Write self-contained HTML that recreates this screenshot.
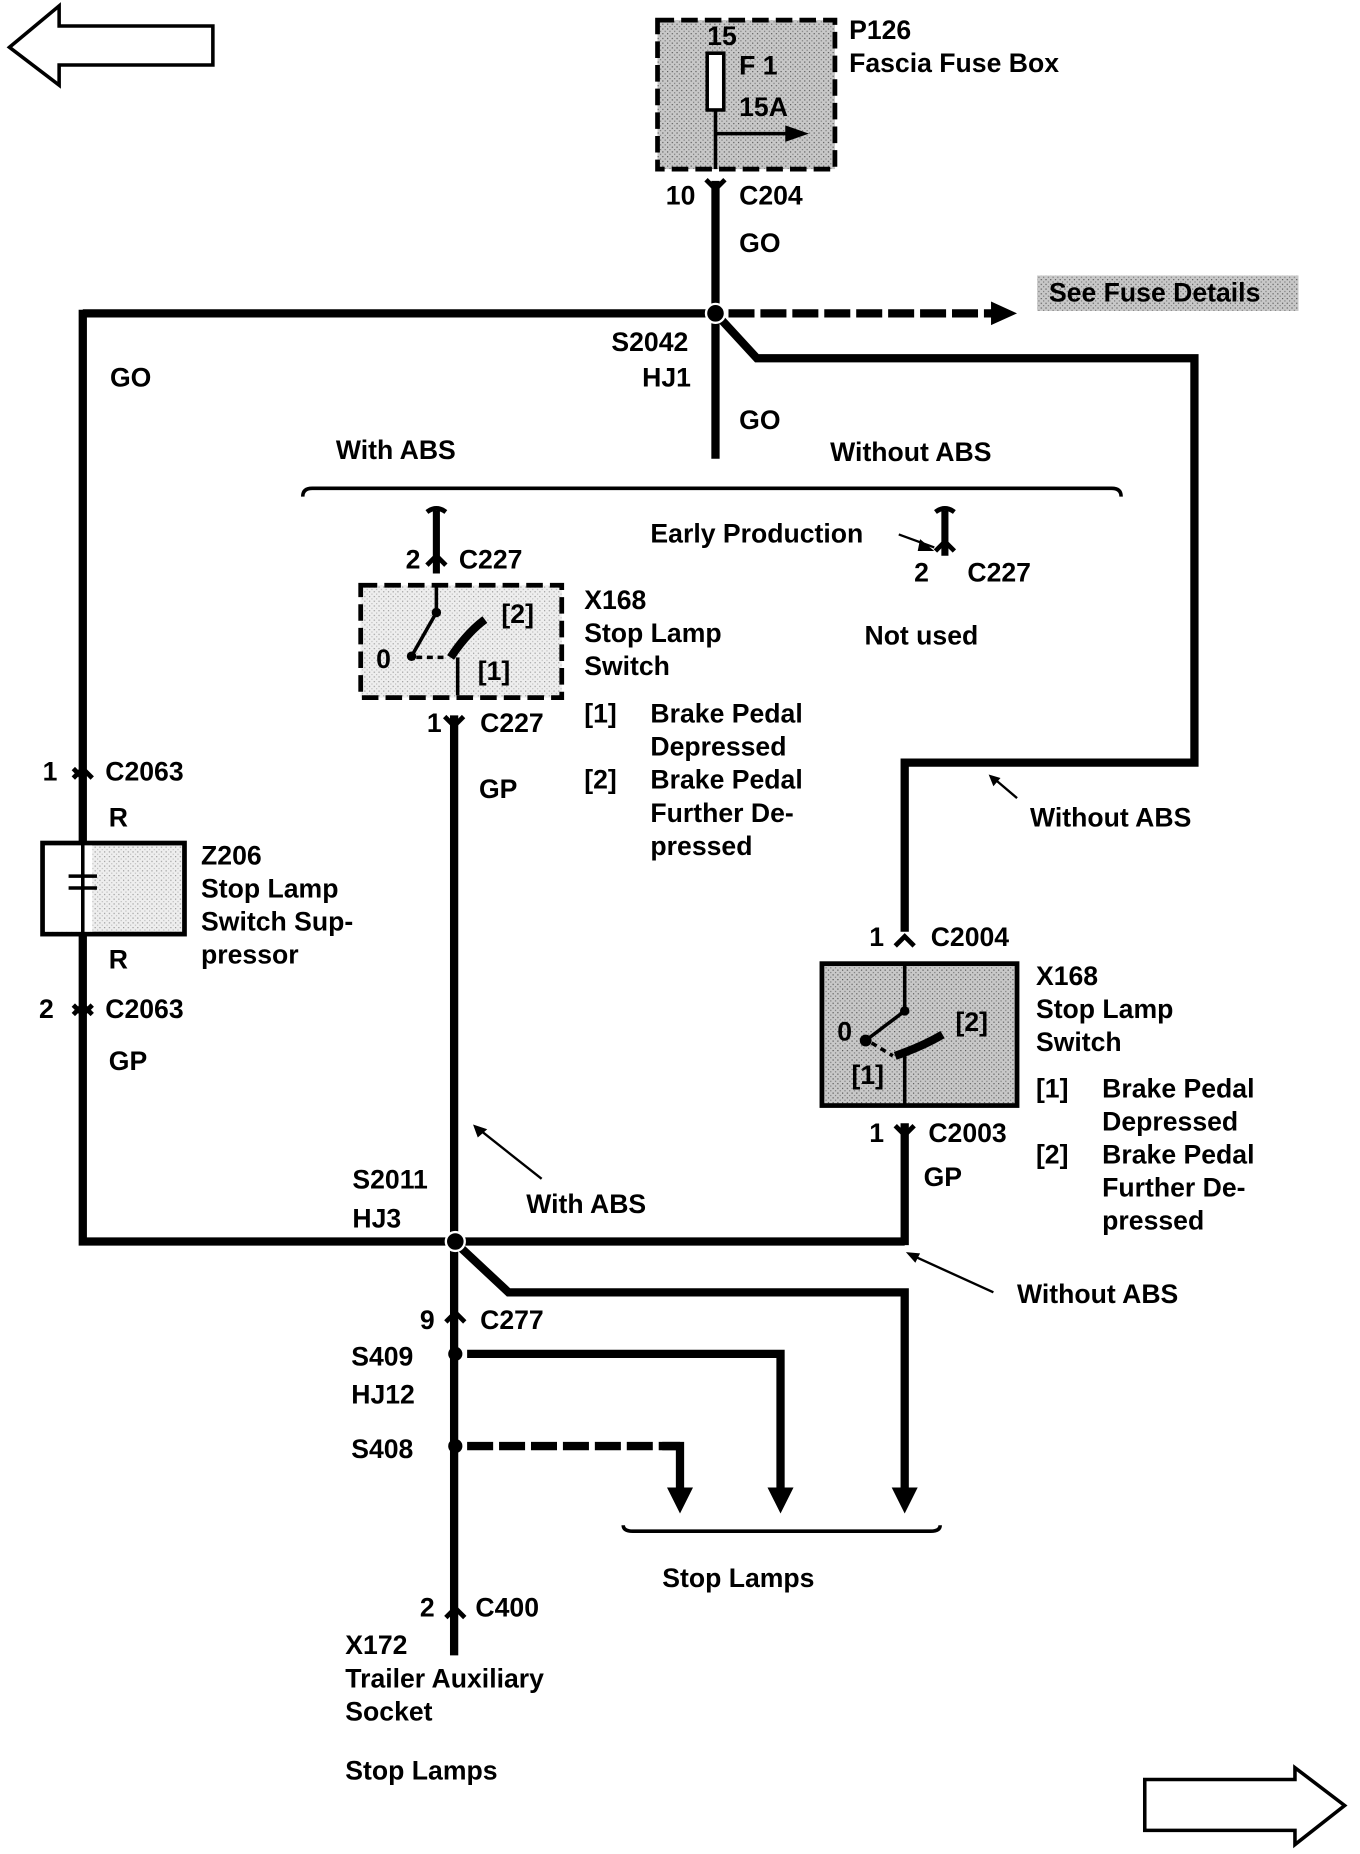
<!DOCTYPE html>
<html><head><style>
html,body{margin:0;padding:0;background:#fff;}
svg{display:block;}
text{font-family:"Liberation Sans",Arial,sans-serif;font-weight:bold;font-size:22.5px;fill:#000;}
</style></head><body>
<svg width="1360" height="1854" viewBox="0 0 1150 1568" preserveAspectRatio="none" xmlns="http://www.w3.org/2000/svg">
<defs>
<pattern id="g" width="4" height="4" patternUnits="userSpaceOnUse"><rect width="4" height="4" fill="#c8c8c8"/><rect width="1" height="1" fill="#555"/><rect x="2" y="2" width="1" height="1" fill="#777"/></pattern>
<pattern id="lg" width="4" height="4" patternUnits="userSpaceOnUse"><rect width="4" height="4" fill="#eee"/><rect width="1" height="1" fill="#999"/><rect x="2" y="2" width="1" height="1" fill="#bbb"/></pattern>
</defs>
<g fill="none" stroke="#000">
<polygon points="8,40 50,5 50,22 180,22 180,55 50,55 50,72" stroke-width="3" fill="#fff"/>
<polygon points="968,1505 1095,1505 1095,1495 1137,1527 1095,1560 1095,1548 968,1548" stroke-width="3" fill="#fff"/>
<rect x="556" y="17" width="150" height="126" fill="url(#g)" stroke-width="4" stroke-dasharray="14,6"/>
<rect x="598" y="45" width="14" height="48" fill="#fff" stroke-width="3"/>
<line x1="605" y1="93" x2="605" y2="143" stroke-width="3"/>
<line x1="605" y1="113" x2="670" y2="113" stroke-width="3"/>
<line x1="605" y1="153" x2="605" y2="388" stroke-width="7"/>
<polyline points="70,265 605,265" stroke-width="7"/>
<polyline points="70,262 70,1050 765,1050" stroke-width="7"/>
<line x1="616" y1="265" x2="840" y2="265" stroke-width="7" stroke-dasharray="22,5"/>
<polyline points="605,265 640,303 1010,303 1010,645 765,645 765,788" stroke-width="7"/>
<line x1="765" y1="950" x2="765" y2="1053" stroke-width="7"/>
<line x1="384" y1="605" x2="384" y2="1400" stroke-width="7"/>
<line x1="369" y1="432" x2="369" y2="485" stroke-width="6"/>
<line x1="799" y1="432" x2="799" y2="470" stroke-width="6"/>
<polyline points="384,1050 430,1093 765,1093 765,1260" stroke-width="7"/>
<polyline points="395,1145 660,1145 660,1262" stroke-width="7"/>
<polyline points="395,1223 575,1223" stroke-width="7" stroke-dasharray="22,5"/>
<polyline points="560,1223 575,1223 575,1260" stroke-width="7"/>
<path d="M256,420 Q256,413 264,413 L940,413 Q948,413 948,420" stroke-width="3"/>
<path d="M527,1290 Q527,1295 535,1295 L787,1295 Q795,1295 795,1290" stroke-width="3"/>
<rect x="305" y="495" width="170" height="95" fill="url(#lg)" stroke-width="4" stroke-dasharray="14,6"/>
<line x1="369" y1="495" x2="369" y2="518" stroke-width="3"/>
<line x1="369" y1="518" x2="348" y2="555" stroke-width="3"/>
<line x1="352" y1="556" x2="378" y2="556" stroke-width="3" stroke-dasharray="5,4"/>
<path d="M381,556 Q395,535 410,524" stroke-width="7"/>
<line x1="387" y1="556" x2="387" y2="588" stroke-width="3"/>
<rect x="695" y="815" width="165" height="120" fill="url(#g)" stroke-width="4"/>
<line x1="765" y1="815" x2="765" y2="855" stroke-width="3"/>
<line x1="765" y1="855" x2="732" y2="880" stroke-width="3"/>
<line x1="737" y1="882" x2="755" y2="893" stroke-width="3" stroke-dasharray="5,4"/>
<path d="M757,893 Q780,885 797,875" stroke-width="7"/>
<line x1="765" y1="893" x2="765" y2="935" stroke-width="3"/>
<rect x="36" y="713" width="120" height="77" fill="url(#lg)" stroke-width="4"/>
<rect x="38" y="715" width="40" height="73" fill="#fff" stroke="none"/>
<line x1="70" y1="713" x2="70" y2="790" stroke-width="3"/>
<line x1="58" y1="741" x2="82" y2="741" stroke-width="3"/>
<line x1="58" y1="751" x2="82" y2="751" stroke-width="3"/>
<line x1="760" y1="452" x2="790" y2="463" stroke-width="2"/>
<line x1="860" y1="675" x2="840" y2="658" stroke-width="2"/>
<line x1="458" y1="997" x2="405" y2="955" stroke-width="2"/>
<line x1="840" y1="1093" x2="772" y2="1062" stroke-width="2"/>
</g>
<g fill="#000">
<polygon points="664,106 684,113 664,120"/>
<polygon points="838,255 860,265 838,275"/>
<polygon points="564,1258 586,1258 575,1280"/>
<polygon points="649,1258 671,1258 660,1280"/>
<polygon points="754,1258 776,1258 765,1280"/>
<polygon points="790,466 778,456 776,466"/>
<polygon points="836,655 846,658 840,665"/>
<polygon points="400,951 412,955 404,962"/>
<polygon points="766,1059 778,1060 774,1068"/>
<circle cx="369" cy="518" r="4"/><circle cx="348" cy="555" r="4"/>
<circle cx="765" cy="855" r="4"/><circle cx="732" cy="880" r="5"/>
<circle cx="385" cy="1145" r="6"/><circle cx="385" cy="1223" r="6"/>
<rect x="877" y="233" width="221" height="30" fill="url(#g)"/>
</g>
<circle cx="605" cy="265" r="8" fill="#000" stroke="#fff" stroke-width="2"/>
<circle cx="385" cy="1050" r="8" fill="#000" stroke="#fff" stroke-width="2"/>
<g stroke="#000" stroke-width="4" fill="none">
<path d="M597,152 L605,160 L613,152"/>
<path d="M361,433 Q369,427 377,433 M361,478 L369,470 L377,478"/>
<path d="M791,433 Q799,427 807,433 M791,466 L799,458 L807,466"/>
<path d="M376,606 L384,614 L392,606"/>
<path d="M62,658 L70,650 L78,658 M62,650 L70,658"/>
<path d="M62,850 L70,858 L78,850 M62,858 L70,850 L78,858"/>
<path d="M757,800 L765,792 L773,800"/>
<path d="M757,952 L765,960 L773,952"/>
<path d="M377,1118 L385,1110 L393,1118"/>
<path d="M377,1368 L385,1360 L393,1368"/>
</g>
<g>
<text x="598" y="38" font-size="21">15</text>
<text x="625" y="63">F 1</text>
<text x="625" y="98">15A</text>
<text x="718" y="33">P126</text>
<text x="718" y="61">Fascia Fuse Box</text>
<text x="563" y="173">10</text>
<text x="625" y="173">C204</text>
<text x="625" y="213">GO</text>
<text x="887" y="255">See Fuse Details</text>
<text x="93" y="327">GO</text>
<text x="517" y="297">S2042</text>
<text x="543" y="327">HJ1</text>
<text x="625" y="363">GO</text>
<text x="284" y="388">With ABS</text>
<text x="702" y="390">Without ABS</text>
<text x="550" y="459">Early Production</text>
<text x="343" y="481">2</text>
<text x="388" y="481">C227</text>
<text x="773" y="492">2</text>
<text x="818" y="492">C227</text>
<text x="494" y="515">X168</text>
<text x="494" y="543">Stop Lamp</text>
<text x="494" y="571">Switch</text>
<text x="731" y="545">Not used</text>
<text x="424" y="527">[2]</text>
<text x="318" y="565">0</text>
<text x="404" y="575">[1]</text>
<text x="361" y="619">1</text>
<text x="406" y="619">C227</text>
<text x="405" y="675">GP</text>
<text x="494" y="611">[1]</text><text x="550" y="611">Brake Pedal</text>
<text x="550" y="639">Depressed</text>
<text x="494" y="667">[2]</text><text x="550" y="667">Brake Pedal</text>
<text x="550" y="695">Further De-</text>
<text x="550" y="723">pressed</text>
<text x="36" y="660">1</text>
<text x="89" y="660">C2063</text>
<text x="92" y="699">R</text>
<text x="170" y="731">Z206</text>
<text x="170" y="759">Stop Lamp</text>
<text x="170" y="787">Switch Sup-</text>
<text x="170" y="815">pressor</text>
<text x="92" y="819">R</text>
<text x="33" y="861">2</text>
<text x="89" y="861">C2063</text>
<text x="92" y="905">GP</text>
<text x="871" y="699">Without ABS</text>
<text x="735" y="800">1</text>
<text x="787" y="800">C2004</text>
<text x="876" y="833">X168</text>
<text x="876" y="861">Stop Lamp</text>
<text x="876" y="889">Switch</text>
<text x="708" y="880">0</text>
<text x="808" y="872">[2]</text>
<text x="720" y="917">[1]</text>
<text x="876" y="928">[1]</text><text x="932" y="928">Brake Pedal</text>
<text x="932" y="956">Depressed</text>
<text x="876" y="984">[2]</text><text x="932" y="984">Brake Pedal</text>
<text x="932" y="1012">Further De-</text>
<text x="932" y="1040">pressed</text>
<text x="735" y="966">1</text>
<text x="785" y="966">C2003</text>
<text x="781" y="1003">GP</text>
<text x="298" y="1005">S2011</text>
<text x="298" y="1038">HJ3</text>
<text x="445" y="1026">With ABS</text>
<text x="860" y="1102">Without ABS</text>
<text x="355" y="1124">9</text>
<text x="406" y="1124">C277</text>
<text x="297" y="1155">S409</text>
<text x="297" y="1187">HJ12</text>
<text x="297" y="1233">S408</text>
<text x="560" y="1342">Stop Lamps</text>
<text x="355" y="1367">2</text>
<text x="402" y="1367">C400</text>
<text x="292" y="1399">X172</text>
<text x="292" y="1427">Trailer Auxiliary</text>
<text x="292" y="1455">Socket</text>
<text x="292" y="1505">Stop Lamps</text>
</g>
</svg>
</body></html>
